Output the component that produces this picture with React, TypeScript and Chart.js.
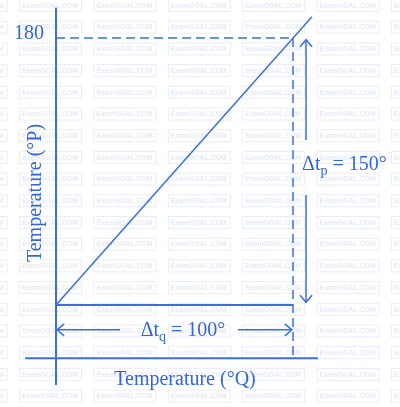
import React, { useEffect, useRef } from "react";
import { Chart, registerables } from "chart.js";

Chart.register(...registerables);

// Data (temperature scales P vs Q)
const qStart = 0;
const qEnd = 100;
const pStart = 30;
const pEnd = 180;
const tickValuesP = [180];
const tickLabelsP = ["180"];
const diagonalQ = [0, 108];
const diagonalP = [30, 192];
const axisQExtent = [-13, 110.5];
const axisPExtent = [-15, 197];
const vArrowQ = 105.5;
const vArrowP = [31.5, 122.7, 91.8, 179];
const hArrowP = 16;
const hArrowQ = [0.5, 27, 76.8, 99.5];
const deltaQLabel = ["Δt", "q", " = 100°"];
const deltaPLabel = ["Δt", "p", " = 150°"];
const xTitle = "Temperature (°Q)";
const yTitle = "Temperature (°P)";

const LINE = "#3a6fe3";
const TEXT = "#3366dd";
const FONT = "'Liberation Serif', 'Times New Roman', serif";

const seg = (pts: { x: number; y: number }[], width: number, dash: number[] = []) => ({
  data: pts,
  showLine: true,
  borderColor: LINE,
  borderWidth: width,
  borderDash: dash,
  pointRadius: 0,
  fill: false,
});

export default function App() {
  const ref = useRef<HTMLCanvasElement | null>(null);

  useEffect(() => {
    if (!ref.current) return;

    const watermark = {
      id: "watermark",
      beforeDraw(chart: any) {
        const ctx = chart.ctx;
        ctx.save();
        ctx.fillStyle = "#ffffff";
        ctx.fillRect(0, 0, chart.width, chart.height);
        ctx.strokeStyle = "#e9edf9";
        ctx.lineWidth = 1;
        ctx.fillStyle = "#e5eaf7";
        ctx.font = "bold 8px 'Liberation Sans', Arial, sans-serif";
        ctx.textAlign = "center";
        ctx.textBaseline = "middle";
        for (let r = -1; r < 20; r++) {
          const cy = 5 + r * 21.7;
          for (let c = -1; c < 6; c++) {
            const x0 = 19 + c * 74.4;
            ctx.strokeRect(x0 + 0.5, cy - 6 + 0.5, 62, 12);
            ctx.fillText("ExamGOAL.COM", x0 + 31, cy + 0.5, 56);
          }
        }
        ctx.restore();
      },
    };

    const overlay = {
      id: "overlay",
      afterDatasetsDraw(chart: any) {
        const ctx = chart.ctx;
        const xs = chart.scales.x;
        const ys = chart.scales.y;
        ctx.save();
        ctx.strokeStyle = LINE;
        ctx.lineWidth = 1.5;
        const chev = (tx: number, ty: number, dx: number, dy: number) => {
          const len = 7;
          const half = 6;
          const bx = tx - dx * len;
          const by = ty - dy * len;
          ctx.beginPath();
          ctx.moveTo(bx - dy * half, by + dx * half);
          ctx.lineTo(tx, ty);
          ctx.lineTo(bx + dy * half, by - dx * half);
          ctx.stroke();
        };
        const vx = xs.getPixelForValue(vArrowQ);
        chev(vx, ys.getPixelForValue(vArrowP[3]), 0, -1);
        chev(vx, ys.getPixelForValue(vArrowP[0]), 0, 1);
        const hy = ys.getPixelForValue(hArrowP);
        chev(xs.getPixelForValue(hArrowQ[0]), hy, -1, 0);
        chev(xs.getPixelForValue(hArrowQ[3]), hy, 1, 0);

        ctx.fillStyle = TEXT;
        ctx.font = `20px ${FONT}`;
        ctx.textBaseline = "middle";
        ctx.textAlign = "right";
        tickValuesP.forEach((v, i) => {
          ctx.fillText(tickLabelsP[i], xs.getPixelForValue(qStart) - 12, ys.getPixelForValue(v) - 4);
        });

        const drawSub = (parts: string[], cx: number, cy: number, align: "center" | "left") => {
          ctx.textAlign = "left";
          ctx.textBaseline = "alphabetic";
          ctx.font = `20px ${FONT}`;
          const w0 = ctx.measureText(parts[0]).width;
          ctx.font = `14px ${FONT}`;
          const w1 = ctx.measureText(parts[1]).width;
          ctx.font = `20px ${FONT}`;
          const w2 = ctx.measureText(parts[2]).width;
          const total = w0 + w1 + w2;
          let x = align === "center" ? cx - total / 2 : cx;
          const base = cy + 7;
          ctx.fillText(parts[0], x, base);
          x += w0;
          ctx.font = `14px ${FONT}`;
          ctx.fillText(parts[1], x, base + 5);
          x += w1;
          ctx.font = `20px ${FONT}`;
          ctx.fillText(parts[2], x, base);
        };
        const gapMid = (xs.getPixelForValue(hArrowQ[1]) + xs.getPixelForValue(hArrowQ[2])) / 2;
        drawSub(deltaQLabel, gapMid + 4, hy - 1, "center");
        const pMid = (ys.getPixelForValue(vArrowP[1]) + ys.getPixelForValue(vArrowP[2])) / 2;
        drawSub(deltaPLabel, vx - 4, pMid - 4, "left");

        ctx.font = `20px ${FONT}`;
        ctx.textAlign = "center";
        ctx.textBaseline = "middle";
        ctx.fillText(xTitle, 185, 380);
        ctx.translate(36, 193);
        ctx.rotate(-Math.PI / 2);
        ctx.fillText(yTitle, 0, 0);
        ctx.restore();
      },
    };

    const chart = new Chart(ref.current, {
      type: "scatter",
      data: {
        datasets: [
          seg([{ x: qStart, y: axisPExtent[0] }, { x: qStart, y: axisPExtent[1] }], 2),
          seg([{ x: axisQExtent[0], y: 0 }, { x: axisQExtent[1], y: 0 }], 2),
          seg([{ x: diagonalQ[0], y: diagonalP[0] }, { x: diagonalQ[1], y: diagonalP[1] }], 1.5),
          seg([{ x: qStart, y: pStart }, { x: qEnd, y: pStart }], 2),
          seg([{ x: qStart, y: pEnd }, { x: qEnd, y: pEnd }], 1.5, [9, 5]),
          seg([{ x: qEnd, y: pEnd }, { x: qEnd, y: 0 }], 1.5, [9, 5]),
          seg([{ x: vArrowQ, y: vArrowP[3] }, { x: vArrowQ, y: vArrowP[1] }], 1.5),
          seg([{ x: vArrowQ, y: vArrowP[2] }, { x: vArrowQ, y: vArrowP[0] }], 1.5),
          seg([{ x: hArrowQ[0], y: hArrowP }, { x: hArrowQ[1], y: hArrowP }], 1.5),
          seg([{ x: hArrowQ[2], y: hArrowP }, { x: hArrowQ[3], y: hArrowP }], 1.5),
        ] as any,
      },
      options: {
        animation: false,
        responsive: false,
        devicePixelRatio: 1,
        layout: { padding: 0 },
        plugins: { legend: { display: false }, tooltip: { enabled: false } },
        events: [],
        scales: {
          x: { type: "linear", display: false, min: -23.63, max: 145.15 },
          y: { type: "linear", display: false, min: -27.35, max: 201.35 },
        },
      },
      plugins: [watermark, overlay],
    });
    return () => chart.destroy();
  }, []);

  return (
    <div style={{ position: "absolute", left: 0, top: 0, width: 400, height: 407 }}>
      <canvas ref={ref} width={400} height={407} />
    </div>
  );
}
